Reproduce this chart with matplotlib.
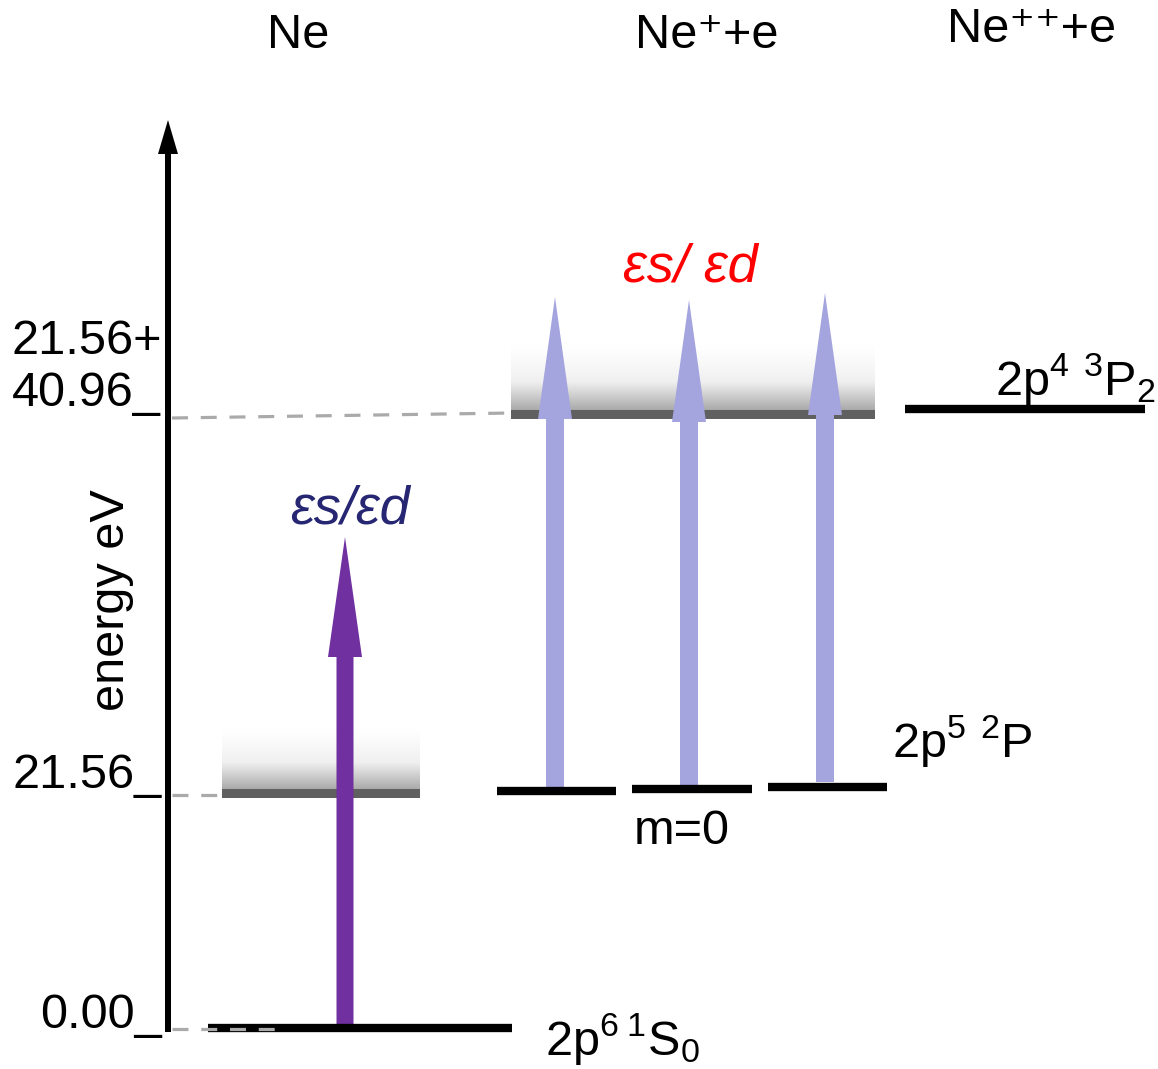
import numpy as np
import matplotlib
matplotlib.use("Agg")
import matplotlib.pyplot as plt
from matplotlib.patches import FancyArrow, Rectangle
from matplotlib.colors import LinearSegmentedColormap

plt.rcParams['font.family'] = ['Liberation Sans', 'DejaVu Sans']
plt.rcParams['mathtext.fontset'] = 'custom'
plt.rcParams['mathtext.rm'] = 'Liberation Sans'
plt.rcParams['mathtext.it'] = 'Liberation Sans:italic'

# ---- data ----
species = ["Ne", "Ne\u207a+e", "Ne\u207a\u207a+e"]
energies_eV = [0.00, 21.56, 21.56 + 40.96]
tick_labels = ["0.00_", "21.56_", "21.56+\n40.96_"]
state_labels = ["2p$^{6}$$\\,^{1}$S$_{0}$", "2p$^{5}$ $^{2}$P", "2p$^{4}$ $^{3}$P$_{2}$"]
m_label = "m=0"
channel_labels = ["\u03b5s/\u03b5d", "\u03b5s/ \u03b5d"]

# ---- schematic layout (pixel-like canvas) ----
W, H = 1158, 1069
level_y = [1028, 793, 414]          # schematic heights of the three energies

fig = plt.figure(figsize=(W / 100, H / 100), dpi=100)
ax = fig.add_axes([0, 0, 1, 1])
ax.set_xlim(0, W)
ax.set_ylim(H, 0)
ax.axis('off')

FS = 35
black = 'black'
gray_dash = '#aaaaaa'
purple = '#7030A0'
lav = '#A4A4DF'

# energy axis arrow
ax.add_patch(FancyArrow(168, 1032, 0, 120 - 1032, width=6, head_width=20,
                        head_length=34, length_includes_head=True,
                        color=black, lw=0, zorder=5))

# tick labels
ax.text(162, 1028, tick_labels[0], ha='right', va='baseline', fontsize=FS)
ax.text(162, 788, tick_labels[1], ha='right', va='baseline', fontsize=FS)
ax.text(162, 406, tick_labels[2], ha='right', va='baseline', fontsize=FS,
        linespacing=1.2, multialignment='left')

ax.text(112, 600, "energy eV", rotation=90, ha='center', va='center', fontsize=FS)

# species headers
ax.text(298, 36, species[0], ha='center', va='center', fontsize=FS)
ax.text(707, 36, species[1], ha='center', va='center', fontsize=FS)
ax.text(1032, 30, species[2], ha='center', va='center', fontsize=FS)

# dashed guide lines
dash = dict(color=gray_dash, lw=2.3, ls=(0, (5, 4)))
ax.plot([172, 512], [418, 413], zorder=2, **dash)
ax.plot([172, 283], [level_y[1] + 2, level_y[1] + 2], zorder=2, **dash)
ax.plot([172, 283], [level_y[0] + 1, level_y[0] + 1], zorder=6, **dash)

# gradient continua
cmap = LinearSegmentedColormap.from_list('g', ['#ffffff', '#f0f0f0', '#aaaaaa'])
grad = np.linspace(0, 1, 200)[:, None] ** 1.2


def continuum(x0, x1, ytop, ybar):
    ax.imshow(grad, cmap=cmap, vmin=0, vmax=1, origin='upper', aspect='auto',
              extent=(x0, x1, ybar, ytop), zorder=1, interpolation='bilinear')
    ax.add_patch(Rectangle((x0, ybar), x1 - x0, 9, color='#606060', lw=0, zorder=2))


continuum(222, 420, 728, 789)
continuum(511, 875, 345, 410)

# ground level
ax.plot([208, 512], [level_y[0], level_y[0]], color=black, lw=6, solid_capstyle='butt', zorder=4)
# Ne+ 2p5 levels (three m sublevels)
for x0, x1, y in [(497, 616, 791), (632, 752, 789), (768, 887, 787)]:
    ax.plot([x0, x1], [y, y], color=black, lw=6, solid_capstyle='butt', zorder=4)
# Ne++ level
ax.plot([905, 1145], [409, 409], color=black, lw=6, solid_capstyle='butt', zorder=4)

# purple arrow
ax.add_patch(FancyArrow(345, 1026, 0, 537 - 1026, width=17, head_width=34,
                        head_length=120, length_includes_head=True,
                        color=purple, lw=0, zorder=3))
# lavender arrows
for x, yb, yt in [(555, 788, 297), (689, 791, 300), (825, 782, 293)]:
    ax.add_patch(FancyArrow(x, yb, 0, yt - yb, width=18, head_width=34,
                            head_length=122, length_includes_head=True,
                            color=lav, lw=0, zorder=3))

# channel labels
ax.text(350, 510, channel_labels[0], ha='center', va='center', fontsize=39,
        style='italic', color='#262673')
ax.text(690, 267, channel_labels[1], ha='center', va='center', fontsize=39,
        style='italic', color='red')

# state labels
ax.text(545, 1055, state_labels[0], ha='left', va='baseline', fontsize=FS)
ax.text(892, 757, state_labels[1], ha='left', va='baseline', fontsize=FS)
ax.text(995, 395, state_labels[2], ha='left', va='baseline', fontsize=FS)
ax.text(682, 832, m_label, ha='center', va='center', fontsize=FS)

fig.savefig('out.png', dpi=100)
